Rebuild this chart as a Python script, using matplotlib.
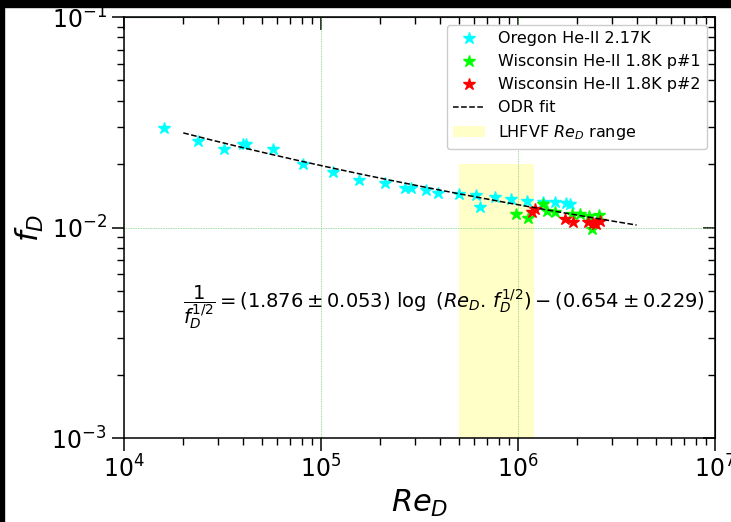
import numpy as np
import matplotlib
matplotlib.use("Agg")
import matplotlib.pyplot as plt
from matplotlib.patches import Rectangle

# Oregon He-II 2.17 K
oregon_re = [1.60e4, 2.38e4, 3.22e4, 4.00e4, 4.16e4, 5.71e4, 8.13e4, 1.147e5,
             1.565e5, 2.106e5, 2.67e5, 2.86e5, 3.40e5, 3.93e5, 5.04e5, 6.12e5,
             6.38e5, 7.62e5, 9.24e5, 1.111e6, 1.332e6, 1.55e6, 1.759e6, 1.828e6]
oregon_f = [0.0296, 0.02584, 0.02352, 0.0250, 0.02493, 0.02368, 0.02003, 0.01835,
            0.01675, 0.01622, 0.01546, 0.01536, 0.01508, 0.01464, 0.01439, 0.01423,
            0.01256, 0.01389, 0.01363, 0.01341, 0.01326, 0.01326, 0.01303, 0.01300]

# Wisconsin He-II 1.8 K, probe #1
wisc1_re = [9.82e5, 1.127e6, 1.344e6, 1.399e6, 1.545e6, 1.884e6, 2.071e6,
            2.288e6, 2.584e6, 2.369e6]
wisc1_f = [0.01157, 0.01110, 0.01293, 0.01198, 0.01183, 0.01157, 0.01163,
           0.01130, 0.01146, 0.00986]

# Wisconsin He-II 1.8 K, probe #2
wisc2_re = [1.174e6, 1.220e6, 1.732e6, 1.909e6, 2.272e6, 2.403e6, 2.593e6, 2.49e6]
wisc2_f = [0.01181, 0.01220, 0.01100, 0.01066, 0.01062, 0.01054, 0.01068, 0.01039]

# ODR fit coefficients: 1/sqrt(f) = a*log10(Re*sqrt(f)) - b
fit_a = 1.876
fit_b = 0.654
fit_re_range = (2e4, 4e6)

# LHFVF Reynolds number window
lhfvf_re = (5e5, 1.2e6)
lhfvf_f_top = 2e-2


def solve_fit(re, a, b):
    # fixed-point iteration on the implicit friction law
    f = np.full_like(re, 0.02, dtype=float)
    for _ in range(200):
        inv = a * np.log10(re * np.sqrt(f)) - b
        f = 1.0 / inv ** 2
    return f


fig = plt.figure(figsize=(7.31, 5.22), dpi=100)
ax = fig.add_axes([0.1696, 0.1609, 0.8085, 0.8065])

ax.set_xscale("log")
ax.set_yscale("log")
ax.set_xlim(1e4, 1e7)
ax.set_ylim(1e-3, 1e-1)

ax.grid(which="major", color="#7fcf7f", linestyle=(0, (1, 1)), linewidth=0.6)

ax.fill_between(lhfvf_re, 1e-3, lhfvf_f_top, color="yellow", alpha=0.22,
                linewidth=0, label=r"LHFVF $Re_D$ range", zorder=1)

ms = 9
ax.plot(oregon_re, oregon_f, ls="none", marker="*", ms=ms, color="cyan",
        label="Oregon He-II 2.17K", zorder=3)
ax.plot(wisc1_re, wisc1_f, ls="none", marker="*", ms=ms, color="lime",
        label="Wisconsin He-II 1.8K p#1", zorder=3)
ax.plot(wisc2_re, wisc2_f, ls="none", marker="*", ms=ms, color="red",
        label="Wisconsin He-II 1.8K p#2", zorder=3)

re_fit = np.logspace(np.log10(fit_re_range[0]), np.log10(fit_re_range[1]), 200)
f_fit = solve_fit(re_fit, fit_a, fit_b)
ax.plot(re_fit, f_fit, "k--", lw=1.1, label="ODR fit", zorder=4)

ax.text(2e4, 0.0042,
        r"$\dfrac{1}{f_D^{1/2}} = (1.876 \pm 0.053)\ \log\ (Re_D.\, f_D^{1/2}) - (0.654 \pm 0.229)$",
        fontsize=14, va="center", ha="left")

handles, labels = ax.get_legend_handles_labels()
order = [1, 2, 3, 4, 0]
ax.legend([handles[i] for i in order], [labels[i] for i in order],
          loc="upper right", fontsize=11.5, framealpha=1.0, borderaxespad=0.5)

ax.set_xlabel(r"$Re_D$", fontsize=22)
ax.set_ylabel(r"$f_D$", fontsize=22)

ax.tick_params(which="major", labelsize=17, length=9, width=1.1, direction="out")
ax.tick_params(which="minor", length=5, width=1.0, direction="out")

# inward ticks on the top and right edges
secx = ax.secondary_xaxis("top")
secx.tick_params(which="major", direction="in", length=9, width=1.1, labeltop=False)
secx.tick_params(which="minor", direction="in", length=5, width=1.0)
secy = ax.secondary_yaxis("right")
secy.tick_params(which="major", direction="in", length=9, width=1.1, labelright=False)
secy.tick_params(which="minor", direction="in", length=5, width=1.0)

for sp in ax.spines.values():
    sp.set_linewidth(1.1)

# dark border strips along the top and left edges
W, H = fig.get_size_inches() * fig.dpi
fig.patches.append(Rectangle((0, 1 - 7 / H), 1, 7 / H, transform=fig.transFigure,
                             color="black", zorder=10))
fig.patches.append(Rectangle((0, 0), 4 / W, 1, transform=fig.transFigure,
                             color="black", zorder=10))

fig.savefig("out.png", dpi=100)
